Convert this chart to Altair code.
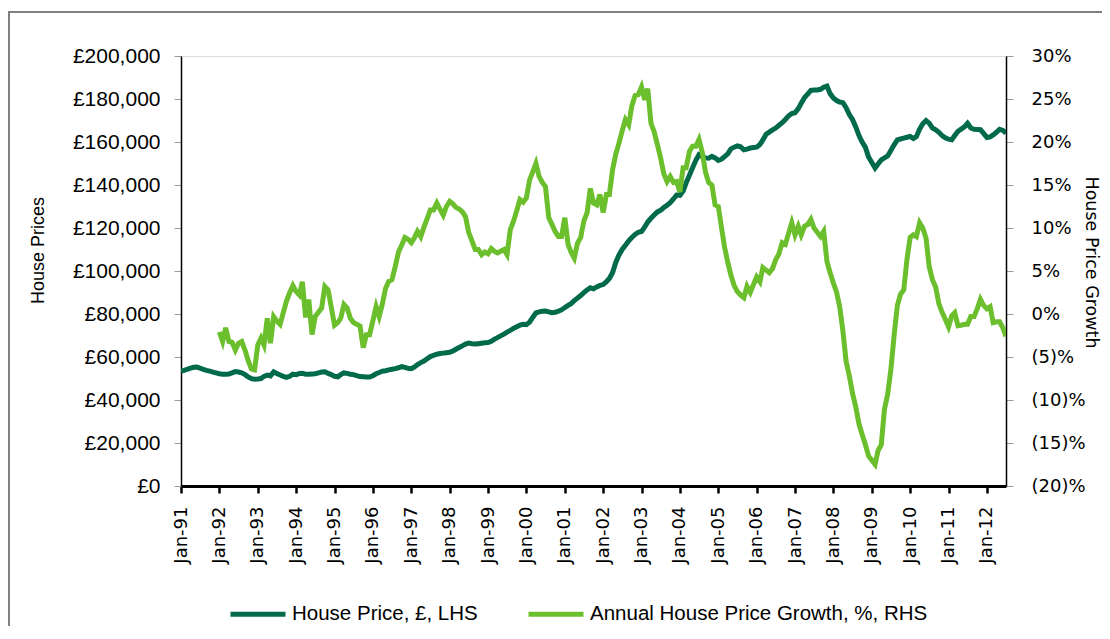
import altair as alt
import pandas as pd

# ---------------- data ----------------
SERIES_PRICE = "House Price, £, LHS"
SERIES_GROWTH = "Annual House Price Growth, %, RHS"

# Monthly average house price, £ thousands, Jan-1991 .. Jul-2012
price_k = [
    53.4, 53.8, 54.3, 54.8, 55.2, 55.3, 54.8, 54.3, 53.8, 53.4, 53.0, 52.6,   # 1991
    52.2, 52.0, 52.0, 52.1, 52.6, 53.2, 53.0, 52.6, 51.8, 50.8, 49.9, 49.7,   # 1992
    49.8, 50.0, 51.0, 51.6, 51.2, 53.1, 52.3, 51.6, 51.0, 50.5, 51.0, 52.0,   # 1993
    51.8, 52.3, 52.4, 52.0, 52.0, 52.1, 52.2, 52.6, 53.0, 53.1, 52.4, 51.8,   # 1994
    51.0, 50.8, 51.8, 52.6, 52.4, 52.0, 51.8, 51.3, 50.9, 50.8, 50.7, 50.7,   # 1995
    51.3, 52.2, 52.8, 53.4, 53.6, 54.0, 54.3, 54.6, 55.0, 55.5, 55.2, 54.7,   # 1996
    54.6, 55.4, 56.5, 57.4, 58.1, 59.2, 60.2, 60.8, 61.3, 61.6, 61.8, 62.0,   # 1997
    62.2, 62.8, 63.6, 64.4, 65.2, 66.0, 66.5, 66.2, 66.0, 66.2, 66.4, 66.6,   # 1998
    66.7, 67.3, 68.2, 69.0, 69.8, 70.6, 71.6, 72.4, 73.3, 74.1, 74.8, 75.2,   # 1999
    75.0, 76.2, 78.4, 80.5, 81.0, 81.3, 81.4, 81.0, 80.6, 80.8, 81.3, 81.9,   # 2000
    83.0, 84.0, 84.8, 86.2, 87.4, 88.6, 89.9, 91.2, 92.2, 91.7, 92.6, 93.3,   # 2001
    93.7, 95.0, 96.5, 99.3, 104.0, 107.5, 110.0, 112.0, 114.0, 115.6, 117.0, 118.0,  # 2002
    118.4, 120.5, 122.8, 124.5, 126.0, 127.5, 128.2, 129.5, 130.6, 131.8, 133.5, 135.3,  # 2003
    135.2, 137.2, 141.0, 144.5, 148.0, 151.5, 154.1, 153.3, 152.6, 152.5, 153.3, 152.6,  # 2004
    151.4, 152.0, 153.2, 154.5, 156.8, 157.6, 158.2, 157.8, 156.4, 156.7, 157.2, 157.4,  # 2005
    157.6, 158.8, 161.0, 163.6, 164.6, 165.6, 166.5, 167.8, 169.0, 170.5, 172.2, 173.2,  # 2006
    173.6, 175.5, 178.0, 180.6, 182.3, 184.0, 184.2, 184.2, 184.5, 185.5, 186.0, 182.5,  # 2007
    180.5, 179.3, 178.6, 178.3, 176.0, 172.8, 170.5, 167.0, 163.0, 160.0, 157.5, 153.0,  # 2008
    150.5, 147.9, 149.8, 151.7, 152.6, 153.5, 156.0, 158.7, 161.0, 161.4, 161.8, 162.2,  # 2009
    162.6, 161.6, 162.5, 166.0, 168.5, 170.0, 168.8, 166.5, 165.7, 164.5, 163.0, 162.0,  # 2010
    161.3, 161.0, 163.0, 165.0, 166.0, 167.0, 168.7, 166.5, 165.9, 165.8, 165.7, 164.0,  # 2011
    162.1, 162.4, 163.3, 164.5, 165.9, 165.4, 164.1,                                     # 2012
]

# Annual house price growth, %, Jan-1992 .. Jul-2012
growth_pct = [
    -2.1, -3.2, -1.6, -3.2, -3.3, -4.2, -3.4, -3.2, -4.2, -5.4, -6.4, -6.5,   # 1992
    -3.6, -2.8, -3.6, -0.5, -3.4, -0.3, -0.8, -1.2, 0.2, 1.5, 2.5, 3.3,       # 1993
    2.6, 2.2, 3.75, -0.4, 1.7, -2.4, -0.3, 0.2, 0.7, 3.2, 2.8, 0.8,           # 1994
    -1.3, -1.0, -0.5, 1.1, 0.7, -0.5, -1.0, -1.2, -1.4, -3.9, -2.4, -2.4,     # 1995
    -0.8, 0.85, -0.3, 1.2, 3.0, 3.8, 4.0, 5.5, 7.2, 8.0, 8.9, 8.7,            # 1996
    8.3, 8.9, 9.6, 9.0, 10.1, 11.1, 12.1, 12.1, 12.9, 12.2, 11.5, 12.5,       # 1997
    13.1, 12.8, 12.4, 12.2, 11.9, 11.3, 9.5, 8.5, 7.5, 7.5, 6.9, 7.2,         # 1998
    7.0, 7.6, 7.3, 7.1, 7.3, 7.5, 6.9, 9.8, 10.8, 12.0, 13.3, 13.0,           # 1999
    13.5, 15.6, 16.5, 17.5, 16.0, 15.3, 14.8, 11.2, 10.4, 9.6, 9.0, 9.0,      # 2000
    11.2, 8.1, 7.2, 6.5, 8.2, 8.9, 10.8, 11.8, 14.6, 12.9, 12.7, 13.9,        # 2001
    11.8, 13.9, 13.9, 16.8, 18.6, 19.9, 21.3, 22.6, 22.0, 24.2, 25.4, 25.5,   # 2002
    26.4, 24.9, 26.2, 22.2, 21.2, 19.7, 18.2, 16.3, 15.4, 16.0, 15.3, 15.4,   # 2003
    14.2, 17.0, 17.0, 18.9, 19.5, 19.5, 20.3, 18.8, 16.5, 15.3, 15.0, 12.7,   # 2004
    12.5, 10.0, 7.8, 6.0, 4.5, 3.3, 2.6, 2.2, 1.9, 3.2, 2.5, 3.4,             # 2005
    4.3, 3.75, 5.4, 5.1, 4.8, 5.3, 6.3, 7.0, 8.3, 8.1, 9.4, 10.6,             # 2006
    9.2, 10.2, 9.2, 10.2, 10.4, 11.0, 10.0, 9.5, 9.0, 9.6, 6.1, 4.8,          # 2007
    3.6, 2.5, 0.85, -2.0, -5.5, -7.2, -9.2, -10.8, -12.8, -14.0, -15.2, -16.5,  # 2008
    -17.0, -17.5, -15.9, -15.2, -11.1, -9.3, -6.5, -2.5, 1.0, 2.3, 2.8, 6.3,  # 2009
    8.9, 9.2, 9.0, 10.6, 10.0, 8.8, 5.5, 4.0, 3.1, 1.2, 0.2, -0.6,            # 2010
    -1.5, -0.2, 0.15, -1.35, -1.3, -1.2, -1.2, -0.3, -0.3, 0.6, 1.7, 1.0,     # 2011
    0.6, 0.85, -1.0, -0.9, -0.9, -1.6, -2.6,                                  # 2012
]

years = list(range(1991, 2013))
price_ticks = list(range(0, 200001, 20000))
growth_ticks = list(range(-20, 31, 5))

# ---------------- table ----------------
price_dates = pd.date_range("1991-01-01", periods=len(price_k), freq="MS")
growth_dates = pd.date_range("1992-01-01", periods=len(growth_pct), freq="MS")
df = pd.concat([
    pd.DataFrame({"date": price_dates, "value": [v * 1000 for v in price_k], "series": SERIES_PRICE}),
    pd.DataFrame({"date": growth_dates, "value": growth_pct, "series": SERIES_GROWTH}),
], ignore_index=True)

DARK = "#006A4A"
LIGHT = "#6BBE2C"
SANS = "Liberation Sans, Arial, Helvetica, sans-serif"
GOTHIC = "DejaVu Sans, Verdana, sans-serif"

x_enc = alt.X(
    "date:T",
    scale=alt.Scale(domain=[alt.DateTime(year=1991, month=1, date=1),
                            alt.DateTime(year=2012, month=7, date=1)], nice=False),
    axis=alt.Axis(
        title=None,
        values=[alt.DateTime(year=y, month=1, date=1) for y in years],
        format="%b-%y",
        labelAngle=270,
        labelFont=GOTHIC, labelFontSize=18, labelColor="black",
        labelPadding=13, labelOverlap=False,
        domainColor="black", domainWidth=3,
        tickColor="black", tickWidth=2.5, tickSize=7,
        grid=False,
    ),
)

color_enc = alt.Color(
    "series:N",
    scale=alt.Scale(domain=[SERIES_PRICE, SERIES_GROWTH], range=[DARK, LIGHT]),
    legend=alt.Legend(
        title=None, orient="none", legendX=47, legendY=528,
        direction="horizontal", symbolType="stroke", symbolStrokeWidth=5,
        symbolSize=3025, labelFont=SANS, labelFontSize=20.5, labelColor="black",
        labelOffset=4, columnPadding=40, padding=0, labelLimit=600,
    ),
)

base = alt.Chart(df)

price_line = base.transform_filter(
    alt.datum.series == SERIES_PRICE
).mark_line(strokeWidth=5, clip=True).encode(
    x=x_enc,
    y=alt.Y(
        "value:Q",
        scale=alt.Scale(domain=[0, 200000], nice=False),
        axis=alt.Axis(
            title="House Prices", values=price_ticks,
            labelExpr="'£' + format(datum.value, ',')",
            labelFont=SANS, labelFontSize=21, labelColor="black", labelPadding=14,
            titleFont=SANS, titleFontSize=18, titleFontWeight="normal", titleColor="black",
            titleAngle=270, titleX=-143, titleY=194, titleAlign="center", titleBaseline="middle",
            domainColor="black", domainWidth=1.5,
            tickColor="#9a9a9a", tickWidth=1, tickSize=7, grid=False,
        ),
    ),
    color=color_enc,
)

growth_line = base.transform_filter(
    alt.datum.series == SERIES_GROWTH
).mark_line(strokeWidth=5, clip=True).encode(
    x=x_enc,
    y=alt.Y(
        "value:Q",
        scale=alt.Scale(domain=[-20, 30], nice=False),
        axis=alt.Axis(
            orient="right",
            title="House Price Growth", values=growth_ticks,
            labelExpr="datum.value < 0 ? '(' + abs(datum.value) + ')%' : datum.value + '%'",
            labelFont=GOTHIC, labelFontSize=18, labelColor="black", labelPadding=18,
            titleFont=GOTHIC, titleFontSize=17.5, titleFontWeight="normal", titleColor="black",
            titleAngle=90, titleX=84, titleY=206, titleAlign="center", titleBaseline="middle",
            domainColor="black", domainWidth=1.5,
            tickColor="#9a9a9a", tickWidth=1, tickSize=7, grid=False,
        ),
    ),
    color=color_enc,
)

frame_src = alt.Data(values=[{"frame": 1}])
frame_top = alt.Chart(frame_src).mark_rule(stroke="#808080", strokeWidth=2).encode(
    x=alt.value(-172), x2=alt.value(1200), y=alt.value(-44),
)
frame_left = alt.Chart(frame_src).mark_rule(stroke="#808080", strokeWidth=2).encode(
    x=alt.value(-172), y=alt.value(-45), y2=alt.value(800),
)

chart = alt.layer(frame_top, frame_left, price_line, growth_line).resolve_scale(
    y="independent"
).properties(
    width=825, height=430,
    padding={"left": 173, "top": 48, "right": 96, "bottom": 140},
    autosize=alt.AutoSizeParams(type="none"),
).configure_view(stroke=None).configure(background="white")

chart.save("out.html", embed_options={"renderer": "svg", "actions": False})
